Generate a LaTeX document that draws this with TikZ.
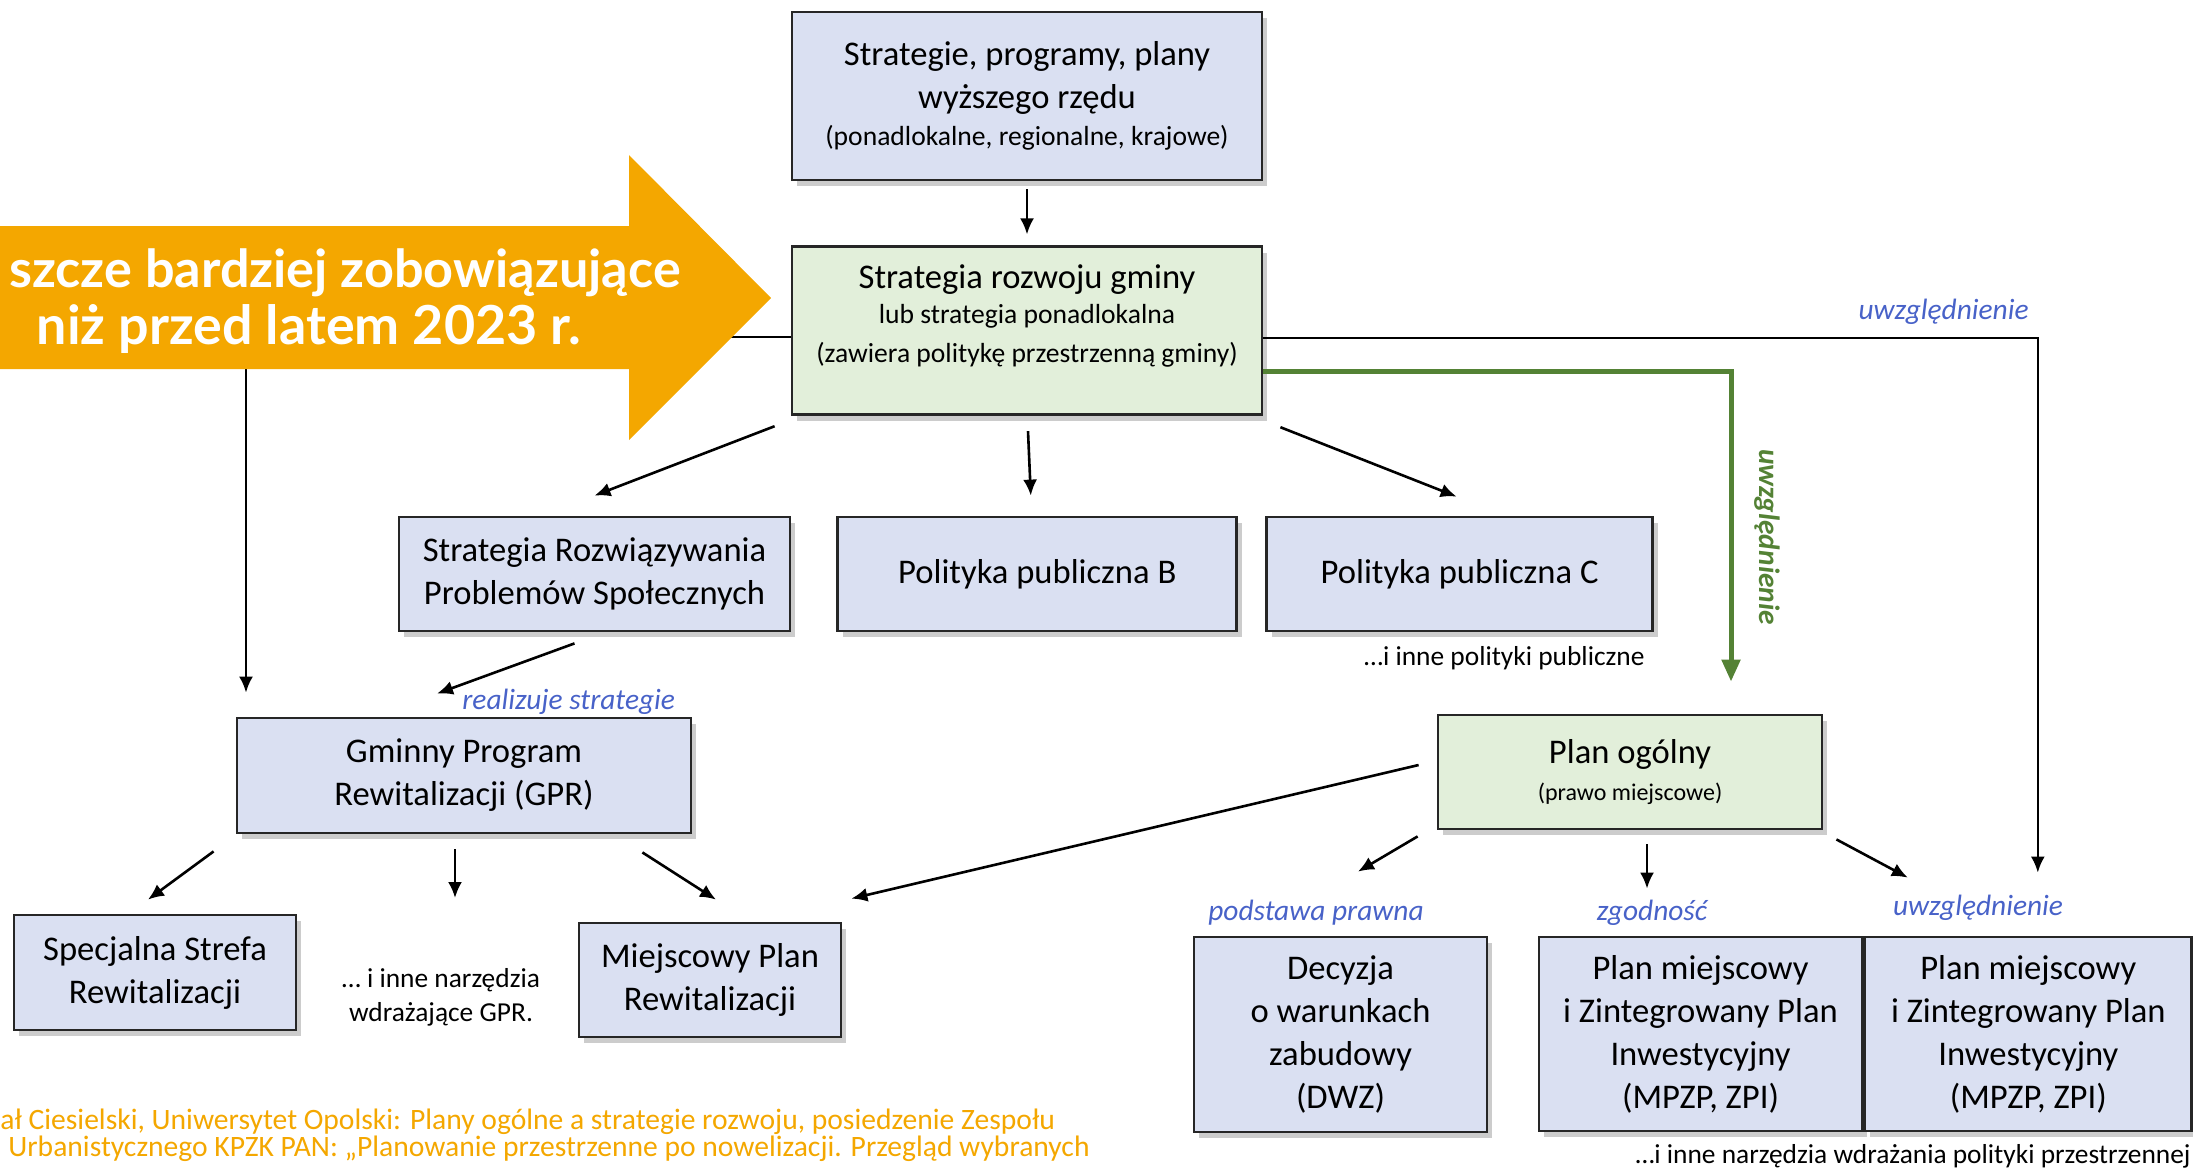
\documentclass[tikz,border=0pt]{standalone}
\usepackage{fontspec}
\setmainfont{Carlito}
\newfontfamily\bannerfamily{Lato}
\usepackage{xcolor}
\usepackage{tikz}
\usetikzlibrary{arrows.meta,positioning,calc,shadows}

\definecolor{boxblue}{RGB}{218,224,242}
\definecolor{boxgreen}{RGB}{226,239,218}
\definecolor{planGreen}{RGB}{84,130,53}
\definecolor{bannerOrange}{RGB}{244,167,0}
\definecolor{labelBlue}{RGB}{72,98,200}

\newcommand\bxfont{\fontsize{17.3}{21.5}\selectfont}
\newcommand\subfont{\fontsize{13.8}{17}\selectfont}
\newcommand\smfont{\fontsize{12}{15}\selectfont}
\newcommand\lblfont{\fontsize{14.7}{17}\selectfont\itshape}
\newcommand\notefont{\fontsize{13.7}{17}\selectfont}
\newcommand\footfont{\fontsize{14.8}{17}\selectfont}
\newcommand\bannerfont{\bannerfamily\bfseries\fontsize{26.9}{30}\selectfont}

\begin{document}
\begin{tikzpicture}[
    x=0.5pt,
    y=-0.5pt,
    box/.style={
        rectangle,
        draw=black!85,
        line width=1.4pt,
        fill=boxblue,
        align=center,
        inner sep=0pt,
        font=\bxfont,
        drop shadow={shadow xshift=2.5pt, shadow yshift=-3pt, opacity=0.2, fill=black}
    },
    gbox/.style={
        box,
        fill=boxgreen
    },
    arr/.style={
        draw,
        -{Latex[length=8pt,width=7pt]},
        line width=1.3pt
    },
    garr/.style={
        draw=planGreen,
        -{Triangle[length=11pt,width=9pt]},
        line width=2.5pt
    },
    lbl/.style={
        font=\lblfont,
        text=labelBlue,
        inner sep=0pt
    },
    glbl/.style={
        font=\lblfont\bfseries,
        text=planGreen,
        inner sep=0pt
    },
    note/.style={
        font=\notefont,
        align=center,
        inner sep=0pt
    },
    foot/.style={
        font=\footfont,
        text=bannerOrange,
        inner sep=0pt
    },
    banner/.style={
        font=\bannerfont,
        text=white,
        inner sep=0pt
    }
]
\useasboundingbox (0,0) rectangle (2193,1169);

% Nodes
\node [box, minimum width=235pt, minimum height=84pt] (wyzsze) at (1027,96)
    {Strategie, programy, plany\\ wyższego rzędu\\[-3pt] {\subfont (ponadlokalne, regionalne, krajowe)}};
\node [gbox, minimum width=235pt, minimum height=84pt, text depth=17pt, below=32pt of wyzsze] (strat)
    {Strategia rozwoju gminy\\[-4pt] {\subfont lub strategia ponadlokalna}\\[-2pt] {\subfont (zawiera politykę przestrzenną gminy)}};
\node [box, minimum width=195.5pt, minimum height=57pt] (srps) at (594.5,574)
    {Strategia Rozwiązywania\\ Problemów Społecznych};
\node [box, minimum width=199.5pt, minimum height=57pt, right=22.5pt of srps] (polB) {Polityka publiczna B};
\node [box, minimum width=193pt, minimum height=57pt, right=13.5pt of polB] (polC) {Polityka publiczna C};
\node [box, minimum width=227pt, minimum height=57.5pt] (gpr) at (464,775.5)
    {Gminny Program\\ Rewitalizacji (GPR)};
\node [box, minimum width=141pt, minimum height=57.5pt] (ssr) at (155,972.5)
    {Specjalna Strefa\\ Rewitalizacji};
\node [box, minimum width=131pt, minimum height=57pt] (mpr) at (710,980)
    {Miejscowy Plan\\ Rewitalizacji};
\node [gbox, minimum width=192pt, minimum height=57pt] (ogolny) at (1630,772)
    {Plan ogólny\\[-3pt] {\smfont (prawo miejscowe)}};
\node [box, minimum width=146.5pt, minimum height=97.5pt] (dwz) at (1340.5,1034.5)
    {Decyzja\\ o warunkach\\ zabudowy\\ (DWZ)};
\node [box, minimum width=161.5pt, minimum height=97pt] (mpzp1) at (1700.5,1034)
    {Plan miejscowy\\ i Zintegrowany Plan\\ Inwestycyjny\\ (MPZP, ZPI)};
\node [box, minimum width=163.5pt, minimum height=97pt, right=0pt of mpzp1] (mpzp2)
    {Plan miejscowy\\ i Zintegrowany Plan\\ Inwestycyjny\\ (MPZP, ZPI)};

% Labels
\node [lbl, anchor=base east] (uwzTop) at (2029,319) {uwzględnienie};
\node [glbl, rotate=-90] (uwzGreen) at (1767,537) {uwzględnienie};
\node [lbl, anchor=base west] (realizuje) at (462,709) {realizuje strategie};
\node [lbl, anchor=base] (podstawa) at (1316,920) {podstawa prawna};
\node [lbl, anchor=base] (zgodnosc) at (1652,920) {zgodność};
\node [lbl, anchor=base] (uwzBottom) at (1978,915) {uwzględnienie};
\node [note, anchor=base east] (polInne) at (1645,665) {…i inne polityki publiczne};
\node [note, anchor=north] (gprInne) at (441,968) {… i inne narzędzia\\ wdrażające GPR.};
\node [note, anchor=base east] (wdrInne) at (2191,1163) {…i inne narzędzia wdrażania polityki przestrzennej};

% Edges
\draw [arr, shorten <=4pt, shorten >=5.5pt] (wyzsze) -- (strat);
\draw [arr] ([shift={(-16,10)}]strat.south west) -- ([shift={(0,-20)}]srps.north);
\draw [arr] ([shift={(1,15)}]strat.south) -- ([shift={(-6.5,-20)}]polB.north);
\draw [arr] ([shift={(17,11)}]strat.south east) -- ([shift={(-3,-19)}]polC.north);
\draw [arr] ([shift={(0,7)}]strat.east) -| ([shift={(9.5,-63)}]mpzp2.north);
\draw [garr] ([shift={(0,41)}]strat.east) -| ([shift={(101,-32)}]ogolny.north);
\draw [arr] ([shift={(0,6)}]strat.west) -| ([shift={(-218,-24)}]gpr.north);
\draw [arr] ([shift={(-20,11)}]srps.south) -- ([shift={(-27,-23)}]gpr.north);
\draw [arr] ([shift={(-22,17)}]gpr.south west) -- ([shift={(-7,-14)}]ssr.north);
\draw [arr] ([shift={(-9,15)}]gpr.south) -- ([shift={(14,-70)}]gprInne.north);
\draw [arr] ([shift={(-50,18)}]gpr.south east) -- ([shift={(6,-22)}]mpr.north);
\draw [arr] ([shift={(-18,-7)}]ogolny.west) -- ([shift={(9,-23)}]mpr.north east);
\draw [arr] ([shift={(-19,6)}]ogolny.south west) -- ([shift={(17.5,-64)}]dwz.north);
\draw [arr] ([shift={(17,14)}]ogolny.south) -- ([shift={(-53.5,-47)}]mpzp1.north);
\draw [arr] ([shift={(13,9)}]ogolny.south east) -- ([shift={(-120.5,-58)}]mpzp2.north);

% Banner
\fill [bannerOrange] (0,226) -- (629,226) -- (629,155) -- (771,298) -- (629,440) -- (629,369) -- (0,369) -- cycle;
\node [banner, font=\bannerfamily\bfseries\fontsize{26.1}{30}\selectfont, anchor=base east] (haslo1) at (681,287) {szcze bardziej zobowiązujące};
\node [banner, anchor=base] (haslo2) at (309,344) {niż przed latem 2023 r.};

% Source
\node [foot, anchor=base west] (zrodlo1) at (0,1129) {ał Ciesielski, Uniwersytet Opolski: Plany ogólne a strategie rozwoju, posiedzenie Zespołu};
\node [foot, anchor=base west] (zrodlo2) at (8,1156) {Urbanistycznego KPZK PAN: „Planowanie przestrzenne po nowelizacji. Przegląd wybranych};

\end{tikzpicture}
\end{document}
